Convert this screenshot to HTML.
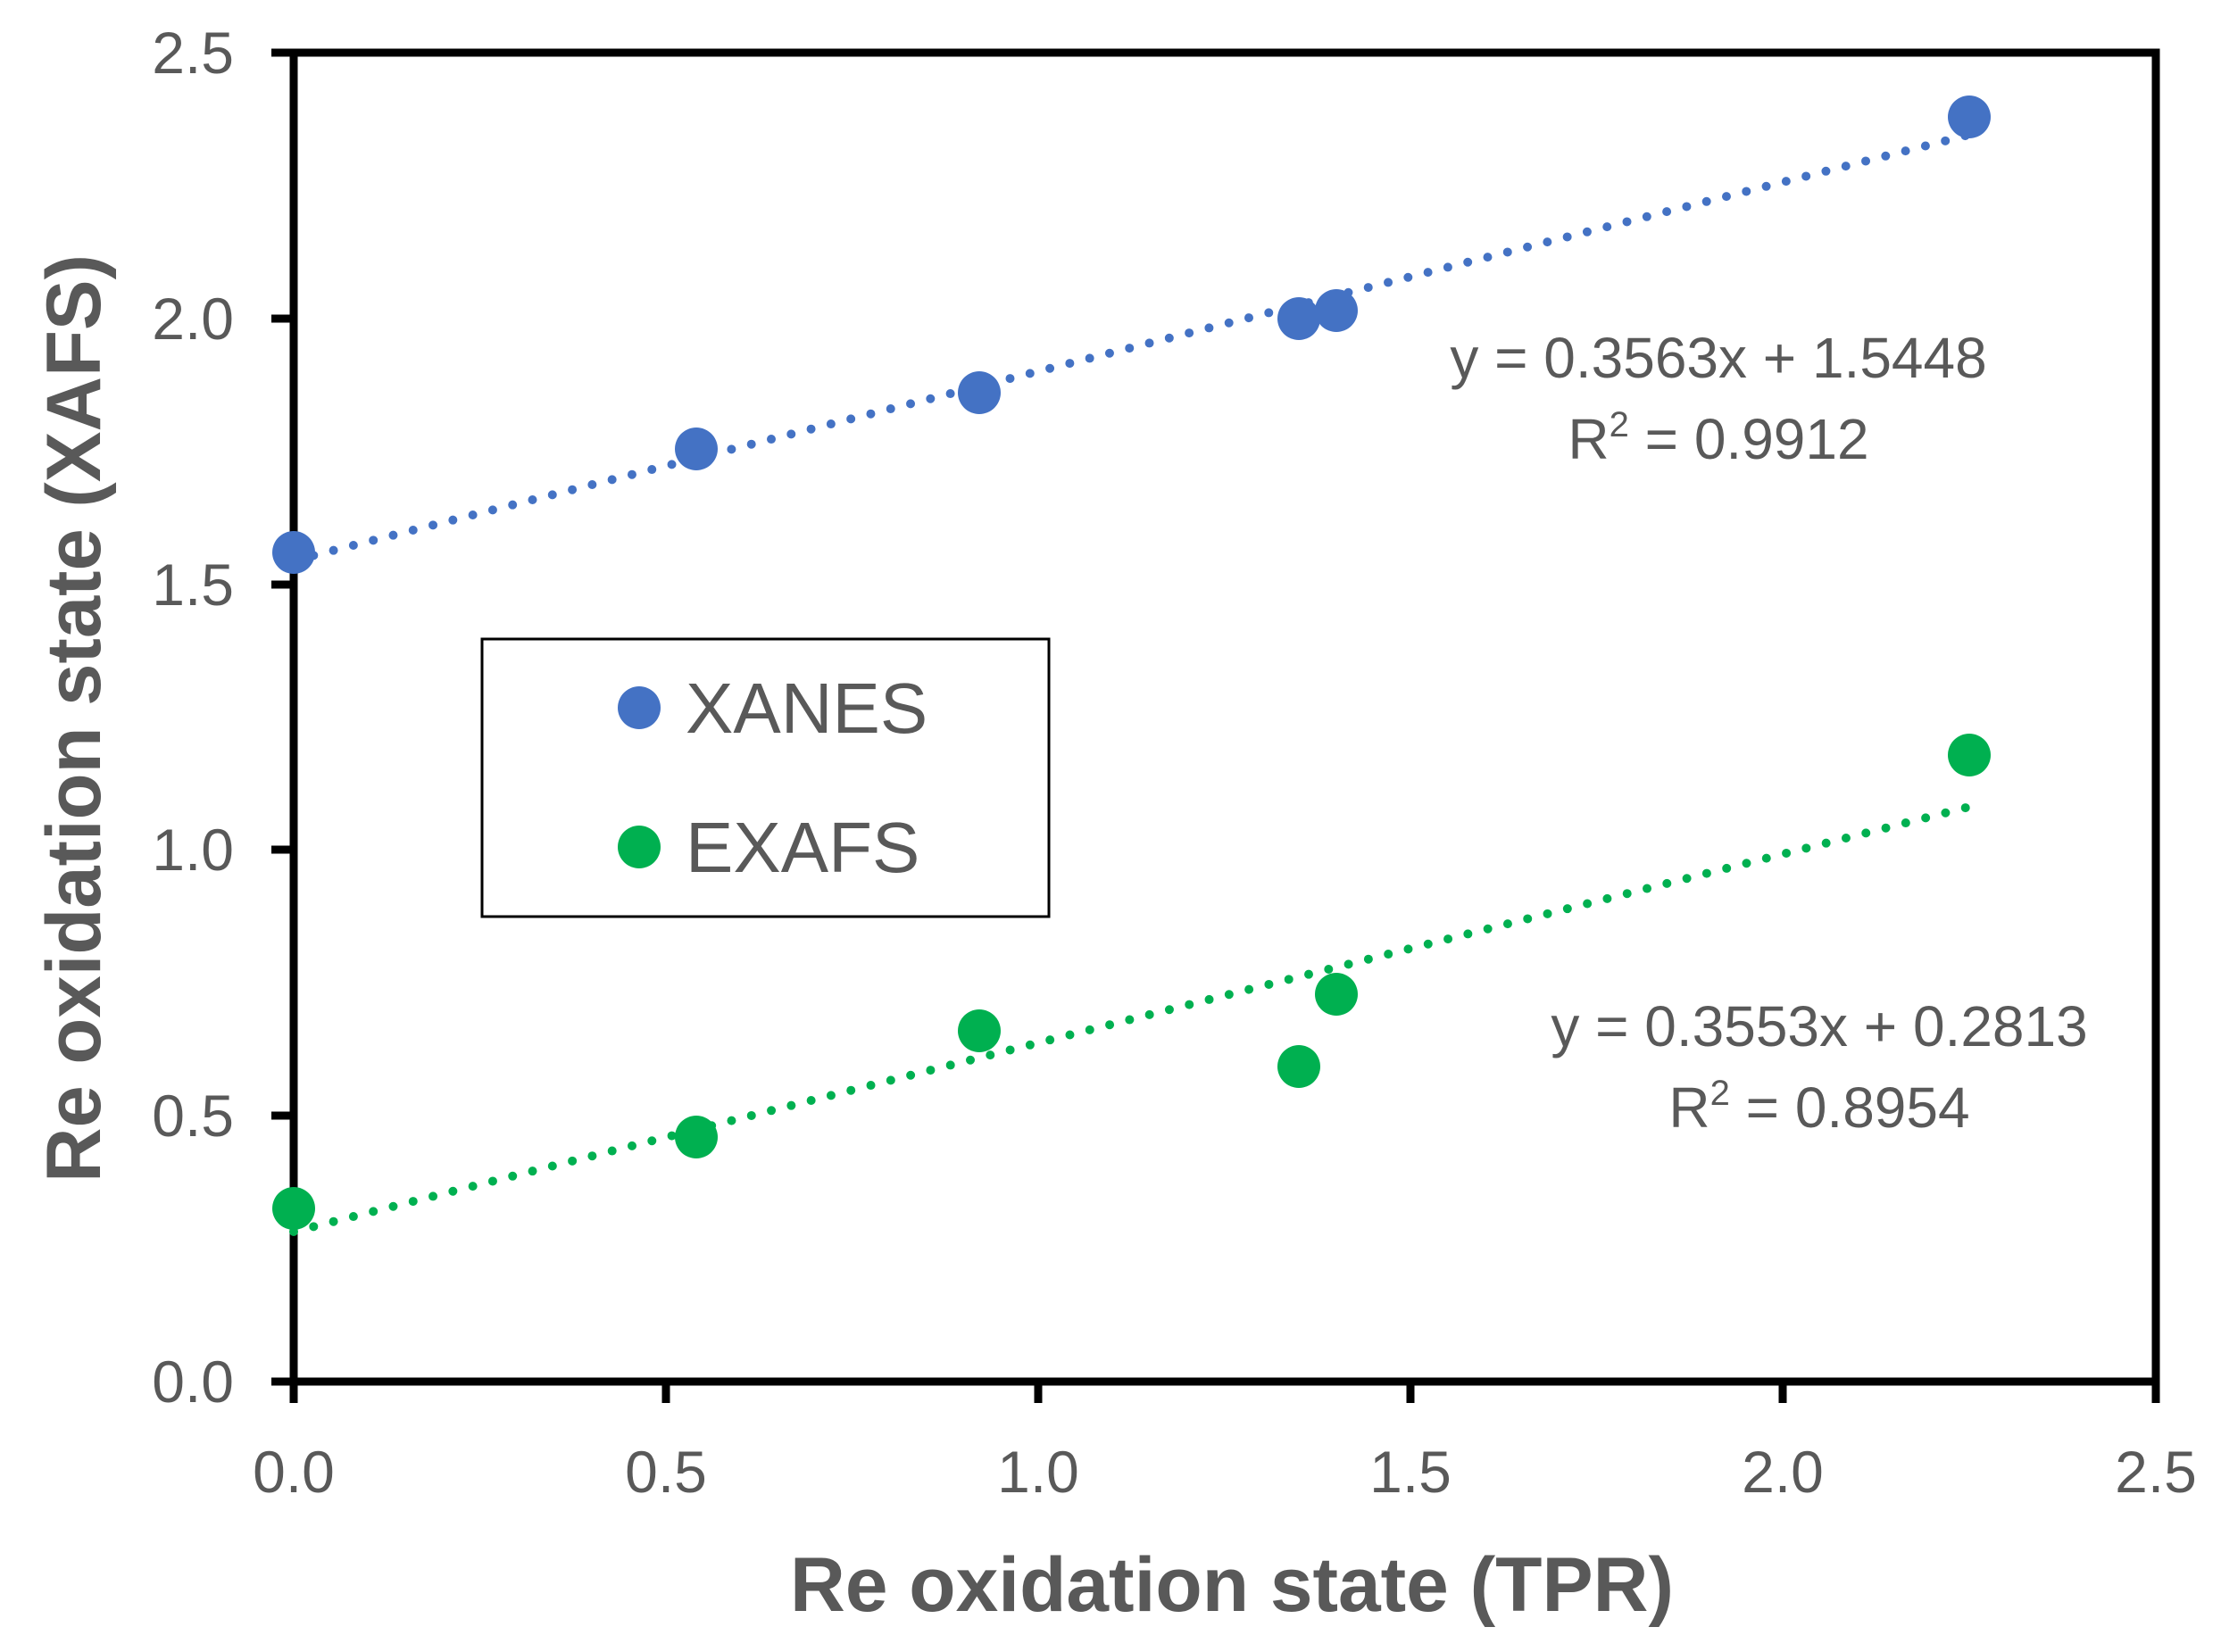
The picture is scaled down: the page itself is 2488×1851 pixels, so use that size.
<!DOCTYPE html>
<html><head><meta charset="utf-8"><style>
html,body{margin:0;padding:0;background:#fff}
svg{display:block}
text{font-family:"Liberation Sans",sans-serif;fill:#595959}
</style></head><body>
<svg width="2488" height="1851" viewBox="0 0 2488 1851" xmlns="http://www.w3.org/2000/svg">
<rect width="2488" height="1851" fill="#fff"/>
<rect x="329" y="59" width="2086" height="1489" fill="none" stroke="#000" stroke-width="9"/>
<g stroke="#000" stroke-width="9">
<line x1="304" y1="59" x2="329" y2="59"/>
<line x1="304" y1="357" x2="329" y2="357"/>
<line x1="304" y1="655" x2="329" y2="655"/>
<line x1="304" y1="952" x2="329" y2="952"/>
<line x1="304" y1="1250" x2="329" y2="1250"/>
<line x1="304" y1="1548" x2="329" y2="1548"/>
<line x1="329" y1="1548" x2="329" y2="1572"/>
<line x1="746" y1="1548" x2="746" y2="1572"/>
<line x1="1163" y1="1548" x2="1163" y2="1572"/>
<line x1="1580" y1="1548" x2="1580" y2="1572"/>
<line x1="1997" y1="1548" x2="1997" y2="1572"/>
<line x1="2415" y1="1548" x2="2415" y2="1572"/>
</g>
<g font-size="66" text-anchor="end">
<text x="262" y="82">2.5</text>
<text x="262" y="380">2.0</text>
<text x="262" y="678">1.5</text>
<text x="262" y="975">1.0</text>
<text x="262" y="1273">0.5</text>
<text x="262" y="1571">0.0</text>
</g>
<g font-size="66" text-anchor="middle">
<text x="329" y="1672">0.0</text>
<text x="746" y="1672">0.5</text>
<text x="1163" y="1672">1.0</text>
<text x="1580" y="1672">1.5</text>
<text x="1997" y="1672">2.0</text>
<text x="2415" y="1672">2.5</text>
</g>
<text x="1380" y="1805" font-size="86" font-weight="bold" text-anchor="middle" textLength="990" lengthAdjust="spacingAndGlyphs">Re oxidation state (TPR)</text>
<text transform="translate(112,805) rotate(-90)" font-size="86" font-weight="bold" text-anchor="middle" textLength="1040" lengthAdjust="spacingAndGlyphs">Re oxidation state (XAFS)</text>
<line x1="329" y1="628" x2="2206" y2="151" stroke="#4472C4" stroke-width="10" stroke-linecap="round" stroke-dasharray="0 23"/>
<line x1="329" y1="1380" x2="2206" y2="904" stroke="#00B050" stroke-width="10" stroke-linecap="round" stroke-dasharray="0 23"/>
<g fill="#4472C4">
<circle cx="329" cy="619" r="24"/>
<circle cx="780" cy="503" r="24"/>
<circle cx="1097" cy="440" r="24"/>
<circle cx="1455" cy="357" r="24"/>
<circle cx="1497" cy="348" r="24"/>
<circle cx="2206" cy="131" r="24"/>
</g>
<g fill="#00B050">
<circle cx="329" cy="1354" r="24"/>
<circle cx="780" cy="1274" r="24"/>
<circle cx="1097" cy="1155" r="24"/>
<circle cx="1455" cy="1195" r="24"/>
<circle cx="1497" cy="1114" r="24"/>
<circle cx="2206" cy="846" r="24"/>
</g>
<g font-size="64" text-anchor="middle">
<text x="1925" y="423">y = 0.3563x + 1.5448</text>
<text x="1925" y="514">R<tspan font-size="40" dy="-25">2</tspan><tspan dy="25"> = 0.9912</tspan></text>
<text x="2038" y="1172">y = 0.3553x + 0.2813</text>
<text x="2038" y="1263">R<tspan font-size="40" dy="-25">2</tspan><tspan dy="25"> = 0.8954</tspan></text>
</g>
<rect x="540" y="716" width="635" height="311" fill="#fff" stroke="#000" stroke-width="3"/>
<circle cx="716" cy="793" r="24" fill="#4472C4"/>
<circle cx="716" cy="949" r="24" fill="#00B050"/>
<text x="768" y="821" font-size="80">XANES</text>
<text x="768" y="977" font-size="80">EXAFS</text>
</svg>
</body></html>
